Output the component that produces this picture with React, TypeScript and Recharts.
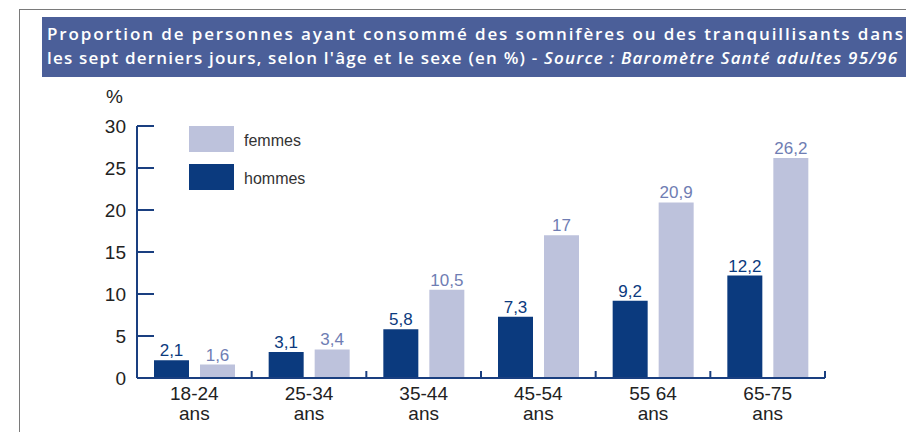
import { BarChart, Bar, XAxis, YAxis, LabelList } from 'recharts';

const ageGroups = ['18-24', '25-34', '35-44', '45-54', '55 64', '65-75'];
const ageUnit = 'ans';
const hommes = [2.1, 3.1, 5.8, 7.3, 9.2, 12.2];
const femmes = [1.6, 3.4, 10.5, 17, 20.9, 26.2];
const yTicks = [0, 5, 10, 15, 20, 25, 30];

const data = ageGroups.map((age, i) => ({ age, hommes: hommes[i], femmes: femmes[i] }));

const DARK = '#0b3a7e';
const LIGHT = '#bdc2dc';
const LIGHT_TEXT = '#6f7db3';
const AXIS = '#1a3f80';
const SANS = '"Liberation Sans", Arial, sans-serif';
const TITLE_FONT = '"Open Sans", sans-serif';

const fmt = (v: any) => String(v).replace('.', ',');

function YTick(props: any) {
  const { x, y, payload } = props;
  return (
    <g>
      <line x1={x} x2={x + 17} y1={y} y2={y} stroke={AXIS} strokeWidth={2} />
      <text x={x - 11} y={y + 7} textAnchor="end" fontSize={19} fill="#222" fontFamily={SANS}>
        {payload.value}
      </text>
    </g>
  );
}

function XTick(props: any) {
  const { x, y, payload } = props;
  const half = payload.offset || 0;
  return (
    <g>
      <line x1={x + half} x2={x + half} y1={y} y2={y - 7} stroke={AXIS} strokeWidth={2} />
      <text x={x} y={y + 22} textAnchor="middle" fontSize={19} fill="#222" fontFamily={SANS}>
        {payload.value}
      </text>
      <text x={x} y={y + 42} textAnchor="middle" fontSize={19} fill="#222" fontFamily={SANS}>
        {ageUnit}
      </text>
    </g>
  );
}

function LegendBox() {
  const items = [
    { name: 'femmes', color: LIGHT },
    { name: 'hommes', color: DARK },
  ];
  return (
    <div style={{ position: 'absolute', left: 189, top: 126, fontFamily: SANS, fontSize: 16, color: '#333' }}>
      {items.map((it) => (
        <div key={it.name} style={{ display: 'flex', alignItems: 'center', height: 26, marginBottom: 12 }}>
          <div style={{ width: 45, height: 26, background: it.color, marginRight: 10 }} />
          <span style={{ position: 'relative', top: 2 }}>{it.name}</span>
        </div>
      ))}
    </div>
  );
}

export default function App() {
  return (
    <div style={{ position: 'absolute', left: 0, top: 0, width: 906, height: 432, overflow: 'hidden', background: '#fff' }}>
      <div style={{ position: 'absolute', left: 19, top: 9, width: 1000, height: 1000, border: '1.5px solid #7a7a7a' }} />
      <div style={{ position: 'absolute', left: 42, top: 17, width: 900, height: 60, background: '#4b5f99' }} />
      <svg style={{ position: 'absolute', left: 0, top: 0 }} width={906} height={80}>
        <text x={47} y={40} fill="#fff" fontFamily={TITLE_FONT} fontSize={17} fontWeight={600} textLength={856} lengthAdjust="spacing">
          Proportion de personnes ayant consommé des somnifères ou des tranquillisants dans
        </text>
        <text x={47} y={64} fill="#fff" fontFamily={TITLE_FONT} fontSize={17} fontWeight={600} textLength={850} lengthAdjust="spacing">
          les sept derniers jours, selon l'âge et le sexe (en %) -{' '}
          <tspan fontStyle="italic">Source : Baromètre Santé adultes 95/96</tspan>
        </text>
      </svg>
      <div style={{ position: 'absolute', left: 106, top: 86, fontFamily: SANS, fontSize: 19, color: '#222' }}>%</div>
      <div style={{ position: 'absolute', left: 0, top: 0 }}>
        <BarChart
          width={906}
          height={432}
          data={data}
          margin={{ top: 126, right: 81, left: 77, bottom: 0 }}
          barCategoryGap={17}
          barGap={11}
        >
          <XAxis
            dataKey="age"
            height={54}
            axisLine={{ stroke: AXIS, strokeWidth: 2 }}
            tickLine={false}
            tickSize={0}
            tickMargin={0}
            tick={<XTick />}
            interval={0}
          />
          <YAxis
            width={60}
            domain={[0, 30]}
            ticks={yTicks}
            axisLine={{ stroke: AXIS, strokeWidth: 2 }}
            tickLine={false}
            tickSize={0}
            tickMargin={0}
            tick={<YTick />}
            interval={0}
          />
          <Bar dataKey="hommes" name="hommes" fill={DARK} isAnimationActive={false}>
            <LabelList dataKey="hommes" position="top" offset={4} formatter={fmt} fill={DARK} fontSize={17} fontFamily={SANS} />
          </Bar>
          <Bar dataKey="femmes" name="femmes" fill={LIGHT} isAnimationActive={false}>
            <LabelList dataKey="femmes" position="top" offset={4} formatter={fmt} fill={LIGHT_TEXT} fontSize={17} fontFamily={SANS} />
          </Bar>
        </BarChart>
      </div>
      <LegendBox />
    </div>
  );
}
